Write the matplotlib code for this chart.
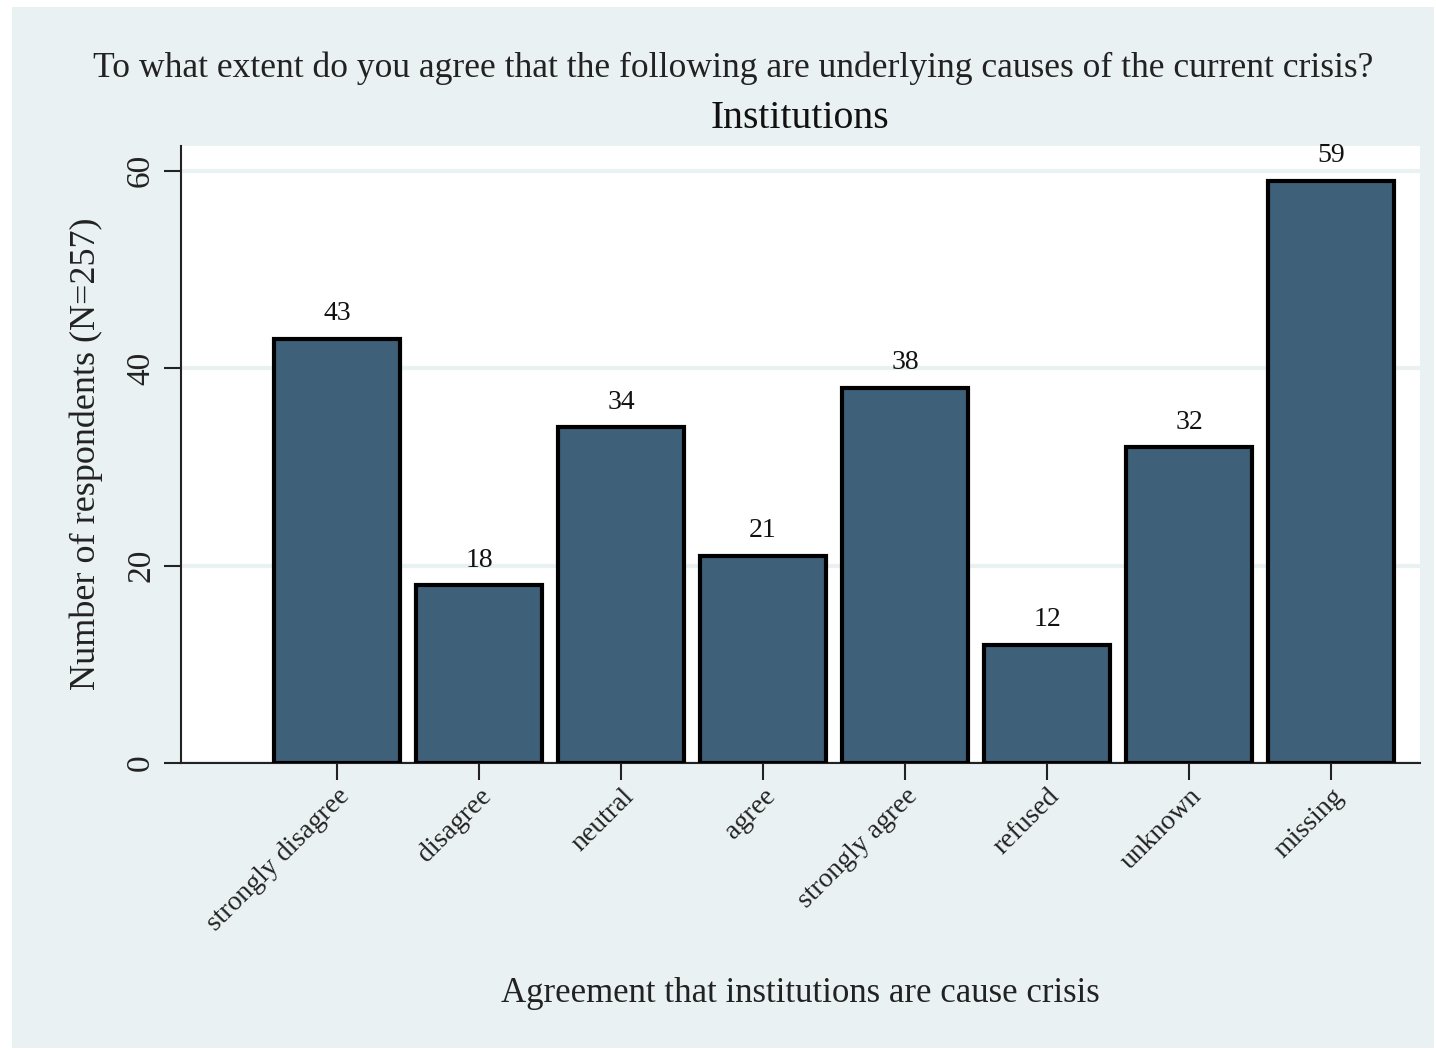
import matplotlib
matplotlib.use("Agg")
import matplotlib.pyplot as plt
from matplotlib.patches import Rectangle

categories = ["strongly disagree", "disagree", "neutral", "agree",
              "strongly agree", "refused", "unknown", "missing"]
counts = [43, 18, 34, 21, 38, 12, 32, 59]
yticks = [0, 20, 40, 60]

title = "To what extent do you agree that the following are underlying causes of the current crisis?"
subtitle = "Institutions"
xlabel = "Agreement that institutions are cause crisis"
ylabel = "Number of respondents (N=257)"

plt.rcParams['font.family'] = ['Liberation Serif', 'DejaVu Serif']
W, H = 1436, 1050
fig = plt.figure(figsize=(W / 100, H / 100), dpi=100)
fig.patch.set_facecolor("white")
bg = "#EAF1F3"
fig.patches.append(Rectangle((12 / W, 1 - 1048 / H), (1434 - 12) / W, (1048 - 7) / H,
                             transform=fig.transFigure, facecolor=bg, edgecolor="none", zorder=-10))

left, right, top, bottom = 181, 1420, 146, 763
ax = fig.add_axes([left / W, 1 - bottom / H, (right - left) / W, (bottom - top) / H])
ax.set_zorder(5)
ax.set_facecolor("white")

x = list(range(len(categories)))
ax.bar(x, counts, width=0.89, color="#3E6079", edgecolor="black", linewidth=3, zorder=3)
for xi, c in zip(x, counts):
    ax.annotate(str(c), (xi, c), xytext=(0, 9), textcoords="offset points",
                ha="center", va="bottom", fontsize=20, color="#111111")

ax.set_xlim(-1.099, 7.627)
ax.set_ylim(0, 62.5)
ax.set_yticks(yticks)
ax.set_yticklabels([str(t) for t in yticks], rotation=90, va="center", fontsize=24, color="#222222")
ax.yaxis.grid(True, color=bg, linewidth=3, zorder=1)
ax.set_axisbelow(True)
ax.set_xticks(x)
ax.set_xticklabels(categories, rotation=45, ha="right", va="top", rotation_mode="anchor",
                   fontsize=20, color="#222222")
ax.tick_params(axis="both", length=12, width=1.5, color="#222222")
ax.tick_params(axis="x", pad=3)
ax.tick_params(axis="y", pad=6)
for s in ["top", "right"]:
    ax.spines[s].set_visible(False)
for s in ["left", "bottom"]:
    ax.spines[s].set_linewidth(1.5)
    ax.spines[s].set_color("#222222")

fig.text(733 / W, 1 - 68 / H, title, ha="center", va="center", fontsize=25.6, color="#222222")
fig.text(800 / W, 1 - 118 / H, subtitle, ha="center", va="center", fontsize=28.6, color="#111111")
fig.text(800 / W, 1 - 993 / H, xlabel, ha="center", va="center", fontsize=25, color="#222222")
fig.text(86 / W, 1 - 454 / H, ylabel, ha="center", va="center", rotation=90, fontsize=26, color="#222222")

fig.savefig("out.png", dpi=100)
